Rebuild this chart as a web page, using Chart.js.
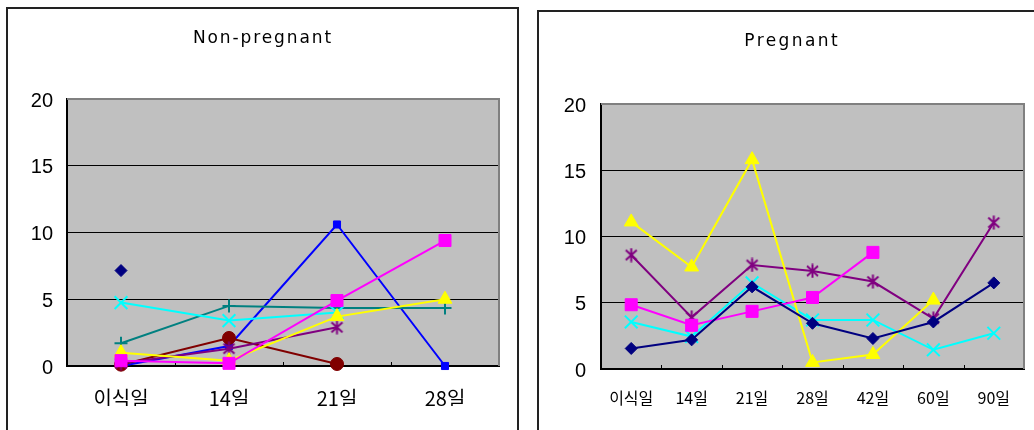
<!DOCTYPE html>
<html>
<head>
<meta charset="utf-8">
<script src="https://cdn.jsdelivr.net/npm/chart.js@4.4.1/dist/chart.umd.min.js"></script>
<style>
  html, body { margin: 0; padding: 0; background: #fff; width: 1034px; height: 430px; overflow: hidden; }
  .panel { position: absolute; border: 2px solid #222; box-sizing: border-box; background: #fff; }
  #panelA { left: 6px; top: 7px; width: 513px; height: 460px; }
  #panelB { left: 537px; top: 10px; width: 520px; height: 460px; }
  canvas { position: absolute; }
  #chartA { left: 9px; top: 10px; }
  #chartB { left: 540px; top: 13px; }
</style>
</head>
<body>
<div class="panel" id="panelA"></div>
<div class="panel" id="panelB"></div>
<canvas id="chartA" width="506" height="420"></canvas>
<canvas id="chartB" width="502" height="417"></canvas>
<script>
// Days after transfer
const nonPregLabels = ['이식일', '14일', '21일', '28일'];
const pregLabels = ['이식일', '14일', '21일', '28일', '42일', '60일', '90일'];

// Value axis
const yMin = 0;
const yMax = 20;
const yStep = 5;

// Non-pregnant group, one array per animal
const npNavy    = [7.15, null, null, null];
const npMagenta = [0.4, 0.2, 4.9, 9.4];
const npYellow  = [1.0, 0.4, 3.7, 5.0];
const npCyan    = [4.75, 3.4, 4.0, null];
const npPurple  = [0.2, 1.3, 2.9, null];
const npMaroon  = [0.1, 2.1, 0.15, null];
const npTeal    = [1.7, 4.5, 4.35, 4.35];
const npBlue    = [0.0, 1.5, 10.6, 0.0];

// Pregnant group, one array per animal
const pNavy    = [1.55, 2.2, 6.2, 3.45, 2.3, 3.55, 6.5];
const pMagenta = [4.85, 3.3, 4.35, 5.4, 8.8, null, null];
const pYellow  = [11.1, 7.7, 15.8, 0.5, 1.1, 5.2, null];
const pCyan    = [3.55, 2.45, 6.5, 3.7, 3.7, 1.45, 2.7];
const pPurple  = [8.6, 3.9, 7.85, 7.4, 6.6, 3.8, 11.05];

// Six-armed asterisk marker (X plus vertical stroke)
function asteriskMarker(color) {
  const s = 15, c = document.createElement('canvas');
  c.width = s; c.height = s;
  const g = c.getContext('2d');
  g.strokeStyle = color;
  g.lineWidth = 2;
  g.beginPath();
  g.moveTo(s / 2, 0.5); g.lineTo(s / 2, s - 0.5);
  g.moveTo(2, 2.5); g.lineTo(s - 2, s - 2.5);
  g.moveTo(s - 2, 2.5); g.lineTo(2, s - 2.5);
  g.stroke();
  return c;
}

function series(data, color, style, radius, borderW) {
  return {
    data: data,
    borderColor: color,
    backgroundColor: color,
    borderWidth: 2,
    pointStyle: style,
    pointRadius: radius,
    pointHoverRadius: radius,
    pointBackgroundColor: color,
    pointBorderColor: color,
    pointBorderWidth: borderW || 1,
    tension: 0,
    spanGaps: false,
    clip: false
  };
}

// Grey plot background, grey top/right frame and category tick marks
const plotFrame = {
  id: 'plotFrame',
  beforeDraw(chart) {
    const { ctx, chartArea: a } = chart;
    ctx.save();
    ctx.fillStyle = '#c0c0c0';
    ctx.fillRect(a.left, a.top, a.right - a.left, a.bottom - a.top);
    ctx.restore();
  },
  beforeDatasetsDraw(chart) {
    const { ctx, chartArea: a } = chart;
    const x = chart.scales.x;
    ctx.save();
    ctx.strokeStyle = '#808080';
    ctx.lineWidth = 2;
    ctx.beginPath();
    ctx.moveTo(a.left, a.top);
    ctx.lineTo(a.right, a.top);
    ctx.lineTo(a.right, a.bottom);
    ctx.stroke();
    ctx.strokeStyle = '#000';
    ctx.lineWidth = 1;
    for (let i = 1; i < x.ticks.length; i++) {
      const px = Math.round((x.getPixelForTick(i - 1) + x.getPixelForTick(i)) / 2) + 0.5;
      ctx.beginPath();
      ctx.moveTo(px, a.bottom);
      ctx.lineTo(px, a.bottom - 4);
      ctx.stroke();
    }
    ctx.restore();
  }
};

// Panel heading drawn with letter spacing
const panelTitle = {
  id: 'panelTitle',
  afterDraw(chart, args, opts) {
    const ctx = chart.ctx;
    ctx.save();
    ctx.font = '17px "DejaVu Sans"';
    ctx.fillStyle = '#000';
    ctx.textAlign = 'center';
    ctx.textBaseline = 'alphabetic';
    ctx.letterSpacing = opts.spacing + 'px';
    ctx.fillText(opts.text, chart.width / 2 + opts.spacing / 2, opts.baseline);
    ctx.restore();
  }
};

function makeOptions(cfg) {
  return {
    responsive: false,
    animation: false,
    events: [],
    layout: { padding: cfg.padding },
    plugins: {
      legend: { display: false },
      tooltip: { enabled: false },
      title: { display: false },
      panelTitle: { text: cfg.title, baseline: cfg.titleBaseline, spacing: cfg.titleSpacing }
    },
    scales: {
      x: {
        type: 'category',
        offset: true,
        grid: { display: false, drawTicks: false, offset: true },
        border: { display: true, color: '#000', width: 2 },
        ticks: {
          autoSkip: false,
          maxRotation: 0,
          padding: cfg.xPad,
          color: '#000',
          font: { family: '"Noto Sans CJK KR", "Noto Sans", sans-serif', size: cfg.xFont }
        },
        afterFit(scale) { scale.height = 40; }
      },
      y: {
        min: yMin,
        max: yMax,
        grid: {
          drawTicks: false,
          color: (c) => (c.tick && c.tick.value === yMax) ? 'rgba(0,0,0,0)' : '#000',
          lineWidth: 1
        },
        border: { display: true, color: '#000', width: 2 },
        ticks: {
          stepSize: yStep,
          padding: cfg.yPad,
          labelOffset: 2,
          color: '#000',
          font: { family: '"Liberation Sans", Arial, sans-serif', size: 20 }
        },
        afterFit(scale) { scale.width = cfg.yWidth; }
      }
    }
  };
}

new Chart(document.getElementById('chartA'), {
  type: 'line',
  data: {
    labels: nonPregLabels,
    datasets: [
      series(npNavy, '#000080', 'rectRot', 6),
      series(npMagenta, '#ff00ff', 'rect', 8.5),
      series(npYellow, '#ffff00', 'triangle', 8),
      series(npCyan, '#00ffff', 'crossRot', 9, 2),
      series(npPurple, '#800080', asteriskMarker('#800080'), 7),
      series(npMaroon, '#800000', 'circle', 6.5),
      series(npTeal, '#008080', 'cross', 6.5, 2),
      series(npBlue, '#0000ff', 'rect', 5)
    ]
  },
  options: makeOptions({
    padding: { left: 0, top: 89, right: 16, bottom: 24 },
    yWidth: 58, yPad: 14, xPad: 20, xFont: 20,
    title: 'Non-pregnant', titleBaseline: 33, titleSpacing: 1.9
  }),
  plugins: [plotFrame, panelTitle]
});

new Chart(document.getElementById('chartB'), {
  type: 'line',
  data: {
    labels: pregLabels,
    datasets: [
      series(pNavy, '#000080', 'rectRot', 6),
      series(pMagenta, '#ff00ff', 'rect', 8.5),
      series(pYellow, '#ffff00', 'triangle', 8),
      series(pCyan, '#00ffff', 'crossRot', 9, 2),
      series(pPurple, '#800080', asteriskMarker('#800080'), 7)
    ]
  },
  options: makeOptions({
    padding: { left: 0, top: 91, right: 18, bottom: 21 },
    yWidth: 61, yPad: 15, xPad: 19, xFont: 16,
    title: 'Pregnant', titleBaseline: 33, titleSpacing: 2.4
  }),
  plugins: [plotFrame, panelTitle]
});
</script>
</body>
</html>
